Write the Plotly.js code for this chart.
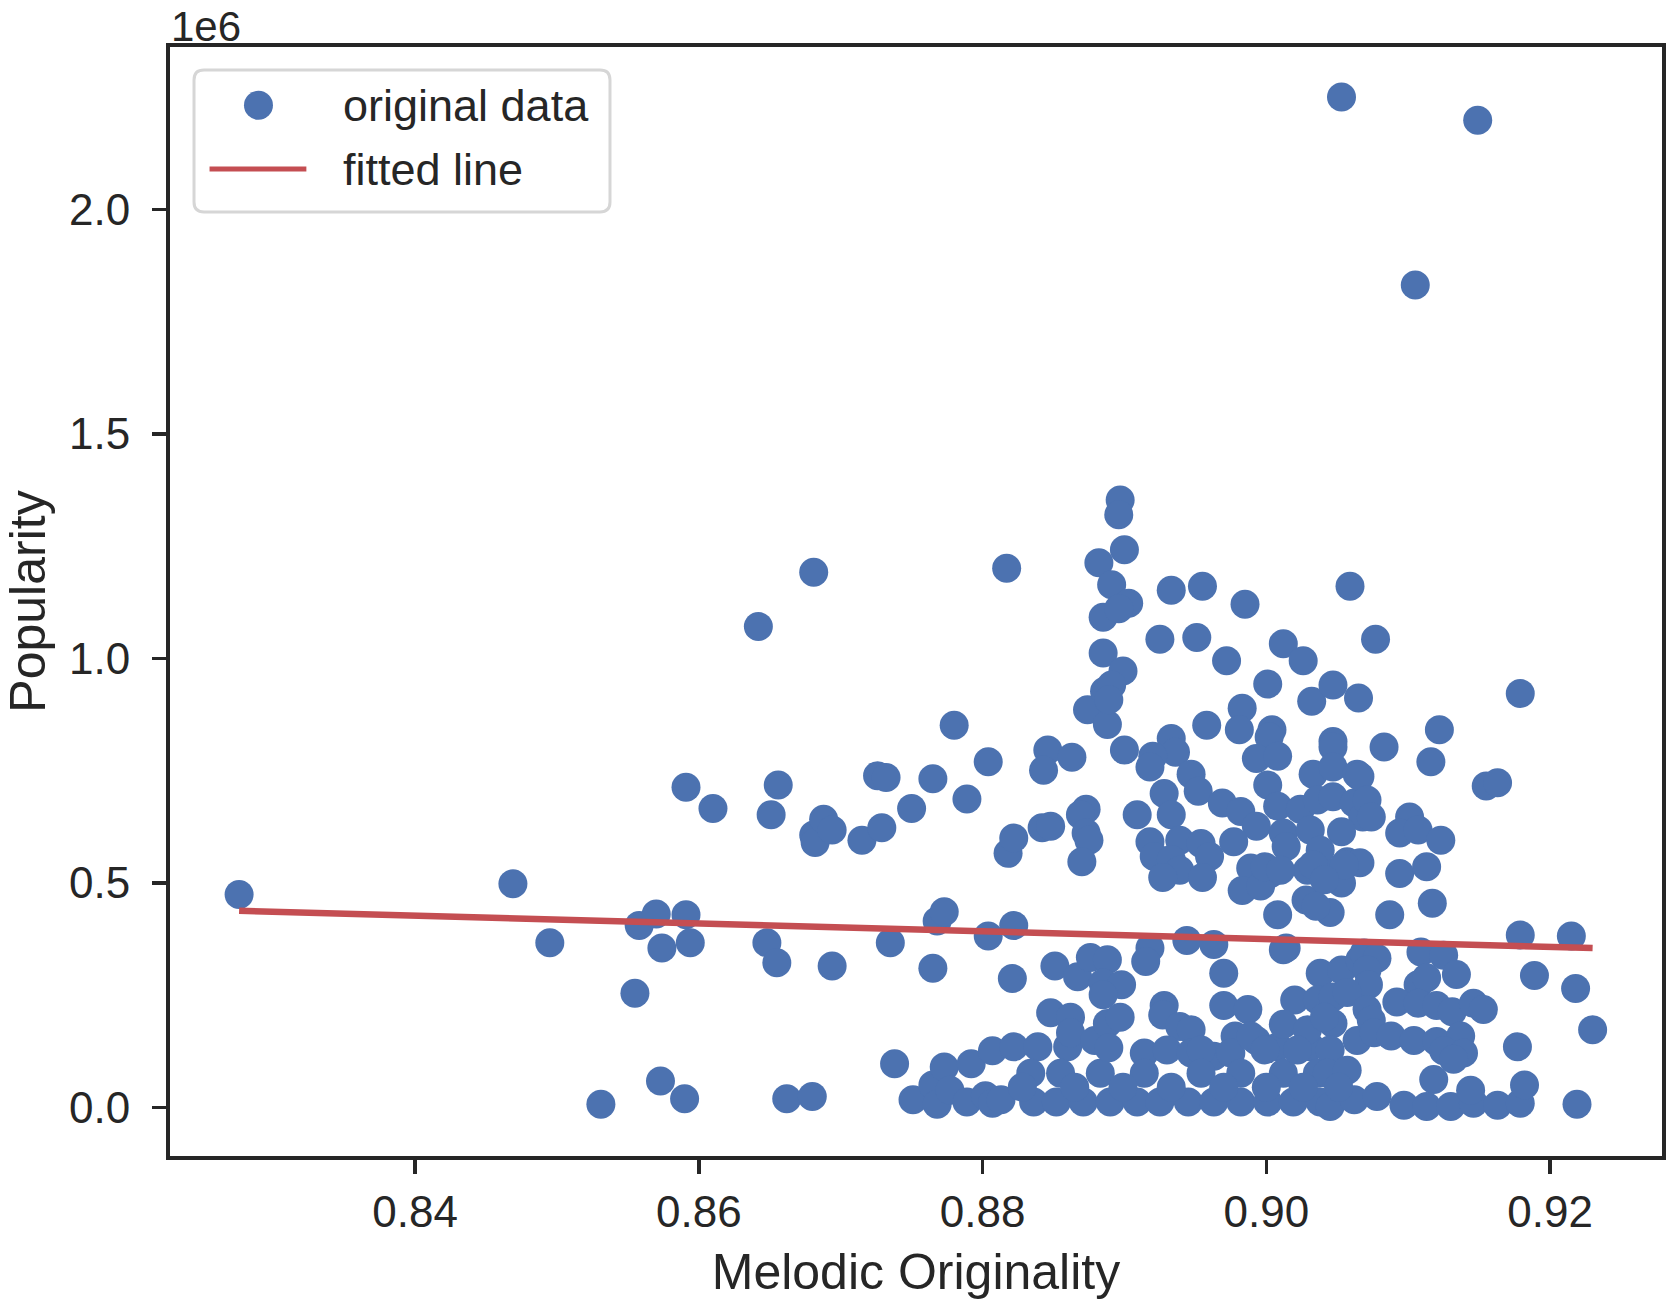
<!DOCTYPE html>
<html>
<head>
<meta charset="utf-8">
<script src="https://cdn.plot.ly/plotly-3.0.1.min.js"></script>
<style>
  html, body { margin: 0; padding: 0; background: #fff; }
  #chart { width: 1667px; height: 1304px; }
</style>
</head>
<body>
<div id="chart"></div>
<script>
// melodic originality score per song (x) and popularity in millions (y)
const melodicOriginality = [
  0.8276, 0.8469, 0.8495, 0.8531, 0.8555, 0.8558, 0.8570, 0.8573, 0.8574, 0.8591,
  0.8590, 0.8594, 0.8591, 0.8610, 0.8642, 0.8651, 0.8656, 0.8648, 0.8655, 0.8662,
  0.8681, 0.8680, 0.8681, 0.8682, 0.8688, 0.8694, 0.8694, 0.8715, 0.8726, 0.8732,
  0.8729, 0.8735, 0.8738, 0.8750, 0.8751, 0.8765, 0.8765, 0.8768, 0.8773, 0.8780,
  0.8789, 0.8765, 0.8768, 0.8773, 0.8777, 0.8789, 0.8792, 0.8804, 0.8804, 0.8802,
  0.8807, 0.8807, 0.8817, 0.8818, 0.8822, 0.8822, 0.8821, 0.8822, 0.8839, 0.8834,
  0.8836, 0.8813, 0.8860, 0.8855, 0.8852, 0.8871, 0.8883, 0.8890, 0.8851, 0.8867,
  0.8876, 0.8888, 0.8885, 0.8898, 0.8885, 0.8848, 0.8862, 0.8862, 0.8879, 0.8888,
  0.8889, 0.8897, 0.8846, 0.8843, 0.8863, 0.8842, 0.8848, 0.8873, 0.8869, 0.8873,
  0.8875, 0.8870, 0.8882, 0.8885, 0.8885, 0.8874, 0.8888, 0.8886, 0.8897, 0.8896,
  0.8891, 0.8903, 0.8896, 0.8900, 0.8899, 0.8891, 0.8889, 0.8900, 0.8933, 0.8955,
  0.8925, 0.8951, 0.8972, 0.8958, 0.8933, 0.8936, 0.8920, 0.8918, 0.8947, 0.8952,
  0.8928, 0.8909, 0.8933, 0.8918, 0.8939, 0.8954, 0.8960, 0.8921, 0.8933, 0.8939,
  0.8927, 0.8955, 0.8918, 0.8915, 0.8944, 0.8963, 0.8970, 0.8928, 0.8927, 0.8939,
  0.8947, 0.8978, 0.8914, 0.8930, 0.8947, 0.8963, 0.8975, 0.8970, 0.8987, 0.8993,
  0.8954, 0.9008, 0.9031, 0.8914, 0.8954, 0.8982, 0.9012, 0.9036, 0.8909, 0.8925,
  0.8945, 0.8963, 0.8982, 0.9001, 0.9019, 0.9038, 0.8985, 0.9059, 0.9077, 0.9012,
  0.9026, 0.9001, 0.9032, 0.9047, 0.9065, 0.8983, 0.8981, 0.9004, 0.9002, 0.9047,
  0.9047, 0.8993, 0.9008, 0.9001, 0.9033, 0.9047, 0.9064, 0.8969, 0.8982, 0.8993,
  0.9008, 0.9024, 0.9036, 0.9047, 0.9062, 0.9068, 0.9012, 0.9031, 0.9053, 0.8977,
  0.8989, 0.9003, 0.8983, 0.8996, 0.9014, 0.9038, 0.9057, 0.9047, 0.9029, 0.9053,
  0.9028, 0.9045, 0.9008, 0.9014, 0.9038, 0.9053, 0.9066, 0.9020, 0.9036, 0.9012,
  0.9029, 0.9047, 0.9064, 0.9083, 0.9116, 0.9122, 0.9066, 0.9071, 0.9074, 0.9101,
  0.9094, 0.9107, 0.9123, 0.9066, 0.9094, 0.9113, 0.9155, 0.9163, 0.9179, 0.8999,
  0.9010, 0.9033, 0.9055, 0.9041, 0.9035, 0.9117, 0.9087, 0.9179, 0.9012, 0.9069,
  0.9078, 0.9109, 0.9125, 0.9071, 0.9072, 0.9134, 0.9107, 0.9113, 0.9047, 0.9057,
  0.9071, 0.9092, 0.9107, 0.9120, 0.9131, 0.9146, 0.9153, 0.9041, 0.9074, 0.9076,
  0.9088, 0.9104, 0.9120, 0.9137, 0.8989, 0.9177, 0.8999, 0.9022, 0.9045, 0.9125,
  0.9139, 0.9132, 0.9043, 0.9057, 0.9118, 0.9045, 0.9062, 0.9078, 0.9097, 0.9113,
  0.9130, 0.9146, 0.9163, 0.9179, 0.9182, 0.9219, 0.9230, 0.9189, 0.9218, 0.9215,
  0.9053, 0.9149, 0.9105, 0.8899, 0.8933, 0.8970, 0.9000, 0.9026, 0.9051, 0.9144,
  0.8865, 0.8828
];
const popularityM = [
  0.474, 0.498, 0.367, 0.007, 0.254, 0.405, 0.431, 0.059, 0.355, 0.429,
  0.019, 0.367, 0.713, 0.666, 1.071, 0.652, 0.718, 0.367, 0.322, 0.019,
  1.192, 0.024, 0.607, 0.590, 0.642, 0.618, 0.315, 0.595, 0.739, 0.735,
  0.623, 0.367, 0.097, 0.666, 0.017, 0.732, 0.310, 0.415, 0.436, 0.851,
  0.687, 0.050, 0.007, 0.090, 0.038, 0.012, 0.097, 0.770, 0.382, 0.026,
  0.126, 0.009, 1.201, 0.566, 0.600, 0.405, 0.287, 0.135, 0.135, 0.076,
  0.012, 0.017, 0.135, 0.076, 0.012, 0.012, 0.076, 0.012, 0.315, 0.291,
  0.334, 0.329, 0.277, 0.273, 0.251, 0.211, 0.201, 0.166, 0.149, 0.187,
  0.133, 0.201, 0.796, 0.751, 0.780, 0.623, 0.626, 0.664, 0.652, 0.611,
  0.595, 0.547, 1.213, 1.092, 1.012, 0.886, 0.853, 0.927, 1.353, 1.320,
  1.164, 1.123, 1.111, 1.242, 0.972, 0.941, 0.908, 0.796, 1.152, 1.161,
  1.043, 1.047, 0.995, 0.851, 0.822, 0.791, 0.782, 0.758, 0.742, 0.704,
  0.699, 0.652, 0.652, 0.592, 0.595, 0.588, 0.559, 0.559, 0.552, 0.528,
  0.512, 0.512, 0.355, 0.325, 0.372, 0.363, 0.299, 0.227, 0.206, 0.180,
  0.173, 0.159, 0.121, 0.128, 0.121, 0.114, 0.121, 0.227, 0.218, 0.149,
  0.128, 0.135, 0.135, 0.076, 0.076, 0.076, 0.076, 0.076, 0.012, 0.012,
  0.012, 0.012, 0.012, 0.012, 0.012, 0.012, 1.121, 1.161, 1.043, 1.033,
  0.995, 0.943, 0.905, 0.941, 0.912, 0.889, 0.841, 0.841, 0.825, 0.815,
  0.803, 0.777, 0.782, 0.718, 0.742, 0.758, 0.742, 0.678, 0.659, 0.626,
  0.671, 0.664, 0.685, 0.692, 0.678, 0.647, 0.611, 0.618, 0.614, 0.592,
  0.533, 0.521, 0.483, 0.493, 0.581, 0.573, 0.547, 0.521, 0.528, 0.500,
  0.462, 0.434, 0.429, 0.355, 0.299, 0.306, 0.329, 0.239, 0.239, 0.185,
  0.173, 0.187, 0.149, 0.803, 0.770, 0.841, 0.737, 0.685, 0.647, 0.647,
  0.611, 0.618, 0.595, 0.545, 0.521, 0.536, 0.716, 0.723, 0.922, 0.536,
  0.528, 0.540, 0.540, 0.507, 0.448, 0.455, 0.429, 0.384, 0.351, 0.344,
  0.332, 0.346, 0.339, 0.306, 0.273, 0.296, 0.273, 0.289, 0.246, 0.256,
  0.218, 0.235, 0.232, 0.227, 0.213, 0.232, 0.218, 0.201, 0.194, 0.166,
  0.159, 0.149, 0.147, 0.159, 0.159, 0.135, 0.128, 0.128, 0.128, 0.126,
  0.121, 0.107, 0.076, 0.083, 0.062, 0.002, 0.017, 0.024, 0.005, 0.002,
  0.002, 0.009, 0.005, 0.009, 0.050, 0.007, 0.173, 0.294, 0.265, 0.382,
  2.251, 2.199, 1.832, 0.045, 0.045, 0.045, 0.045, 0.045, 0.045, 0.038,
  0.045, 0.045
];

// least squares line, read at both ends of the data range
const fitX = [0.8276, 0.9230];
const fitY = [0.438, 0.355];

const xTicks = [0.84, 0.86, 0.88, 0.90, 0.92];
const yTicks = [0.0, 0.5, 1.0, 1.5, 2.0];

const legendLabels = ['original data', 'fitted line'];

const FONT = 'Liberation Sans, Arial, DejaVu Sans, sans-serif';
const INK = '#262626';
const BLUE = '#4C72B0';
const RED = '#C44E52';

const data = [
  {
    x: melodicOriginality, y: popularityM,
    type: 'scatter', mode: 'markers', name: legendLabels[0],
    marker: { color: BLUE, size: 29, line: { width: 0 } }
  },
  {
    x: fitX, y: fitY,
    type: 'scatter', mode: 'lines', name: legendLabels[1],
    line: { color: RED, width: 6.5 }
  }
];

const axisCommon = {
  showgrid: false, zeroline: false,
  showline: true, mirror: true, linecolor: INK, linewidth: 4,
  ticks: 'outside', ticklen: 14, tickwidth: 3.5, tickcolor: INK,
  tickfont: { family: FONT, size: 44, color: INK },
  automargin: false
};

// matplotlib-style legend box (rounded frame, big marker, long line sample)
const legendBox = 'M0.0228,0.8512 L0.2882,0.8512 Q0.2949,0.8512 0.2949,0.8602 L0.2949,0.9703 ' +
  'Q0.2949,0.9793 0.2882,0.9793 L0.0228,0.9793 Q0.0161,0.9793 0.0161,0.9703 L0.0161,0.8602 ' +
  'Q0.0161,0.8512 0.0228,0.8512 Z';

const shapes = [
  { type: 'path', xref: 'paper', yref: 'paper', path: legendBox,
    fillcolor: 'rgba(255,255,255,0.85)', line: { color: '#d6d6d6', width: 3 }, layer: 'above' },
  { type: 'circle', xref: 'paper', yref: 'paper', xsizemode: 'pixel', ysizemode: 'pixel',
    xanchor: 0.0593, yanchor: 0.9474, x0: -14.5, x1: 14.5, y0: -14.5, y1: 14.5,
    fillcolor: BLUE, line: { width: 0 }, layer: 'above' },
  { type: 'line', xref: 'paper', yref: 'paper', x0: 0.0265, x1: 0.0914, y0: 0.8899, y1: 0.8899,
    line: { color: RED, width: 5 }, layer: 'above' }
];

const annotations = [
  // offset text for the y axis, kept in a tight box so it stays inside the page
  { text: '1e6', xref: 'paper', yref: 'paper', x: 0, y: 1,
    xanchor: 'left', yanchor: 'bottom', showarrow: false,
    height: 36, valign: 'middle', yshift: 2, borderpad: 0,
    font: { family: FONT, size: 42, color: INK } },
  { text: legendLabels[0], xref: 'paper', yref: 'paper', x: 0.1146, y: 0.9474,
    xanchor: 'left', yanchor: 'middle', showarrow: false,
    font: { family: FONT, size: 45, color: INK } },
  { text: legendLabels[1], xref: 'paper', yref: 'paper', x: 0.1146, y: 0.8899,
    xanchor: 'left', yanchor: 'middle', showarrow: false,
    font: { family: FONT, size: 45, color: INK } }
];

const layout = {
  width: 1667, height: 1304,
  margin: { l: 170, r: 5, t: 47, b: 148 },
  paper_bgcolor: '#ffffff', plot_bgcolor: '#ffffff',
  font: { family: FONT, color: INK },
  showlegend: false,
  xaxis: Object.assign({}, axisCommon, {
    range: [0.82273, 0.92789],
    tickvals: xTicks, ticktext: xTicks.map(v => v.toFixed(2)),
    title: { text: 'Melodic Originality', font: { family: FONT, size: 50, color: INK }, standoff: 20 }
  }),
  yaxis: Object.assign({}, axisCommon, {
    range: [-0.1083, 2.3622],
    tickvals: yTicks, ticktext: yTicks.map(v => v.toFixed(1)),
    ticklabelstandoff: 13,
    title: { text: 'Popularity', font: { family: FONT, size: 50, color: INK }, standoff: 10 }
  }),
  shapes: shapes,
  annotations: annotations
};

Plotly.newPlot('chart', data, layout, { displayModeBar: false, staticPlot: true });
</script>
</body>
</html>
